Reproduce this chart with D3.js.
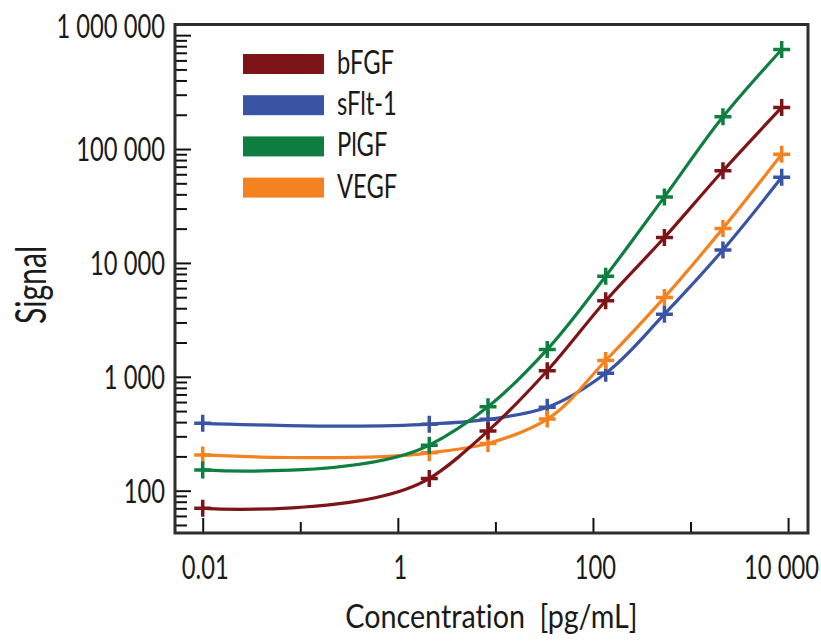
<!DOCTYPE html>
<html>
<head>
<meta charset="utf-8">
<script src="https://cdn.jsdelivr.net/npm/d3@7"></script>
<style>
  body { margin: 0; background: #fff; }
  text { font-family: Lato, "Open Sans", sans-serif; fill: #1a1a1a; font-variant-ligatures: none; }
</style>
</head>
<body>
<script>
// data (concentration in pg/mL)
var concentrations = [0.01, 2.1, 8.4, 34, 135, 540, 2150, 8600];
var bFGF  = [70, 128, 334, 1130, 4650, 16700, 64400, 232000];
var sFlt1 = [390, 384, 423, 540, 1075, 3550, 13000, 56400];
var PlGF  = [152, 251, 546, 1740, 7650, 38000, 192000, 748000];
var VEGF  = [206, 215, 260, 425, 1390, 4980, 20100, 89800];

var seriesNames  = ["bFGF", "sFlt-1", "PlGF", "VEGF"];
var seriesValues = [bFGF, sFlt1, PlGF, VEGF];
var seriesColors = ["#7d1518", "#3a54a4", "#0e7f41", "#f58220"];

var yTickValues = [100, 1000, 10000, 100000, 1000000];
var yTickLabels = ["100", "1 000", "10 000", "100 000", "1 000 000"];
var xTickValues = [0.01, 1, 100, 10000];
var xTickLabels = ["0.01", "1", "100", "10 000"];
var xMinorValues = [0.1, 10, 1000];

// set the dimensions and margins of the graph
var margin = {top: 24.5, right: 13, bottom: 111, left: 175},
    width = 821 - margin.left - margin.right,
    height = 644 - margin.top - margin.bottom;

var narrowTick = 0.72, narrowTitle = 0.87;

var x = d3.scaleLog().domain([0.0052, 16000]).range([0, width]);
var y = d3.scaleLog().domain([42.5, 1240000]).range([height, 0]);

var svg = d3.select("body").append("svg")
    .attr("width", 821)
    .attr("height", 644)
  .append("g")
    .attr("transform", "translate(" + margin.left + "," + margin.top + ")");

// squeeze text horizontally around its own anchor point
function narrow(sel, sx) {
  sel.attr("transform", function() {
    var tx = +this.getAttribute("x") || 0, ty = +this.getAttribute("y") || 0;
    return "translate(" + tx + "," + ty + ") scale(" + sx + ",1) translate(" + (-tx) + "," + (-ty) + ")";
  });
}

// minor y ticks (2..9 in each decade)
var yMinor = y.ticks().filter(function(v) { return yTickValues.indexOf(v) < 0; });
svg.append("g")
    .call(d3.axisLeft(y).tickValues(yMinor).tickSize(-12).tickFormat(""))
    .call(function(g) { g.select(".domain").remove(); });

// major y ticks + labels
var gy = svg.append("g")
    .call(d3.axisLeft(y).tickValues(yTickValues).tickSize(-16).tickPadding(10)
      .tickFormat(function(d, i) { return yTickLabels[i]; }));
gy.select(".domain").remove();
gy.selectAll("text")
    .attr("font-size", 33)
    .attr("dy", function(d) { return d === 1000000 ? "0.08em" : "0.36em"; })
    .call(narrow, narrowTick);

// x ticks
svg.append("g")
    .attr("transform", "translate(0," + height + ")")
    .call(d3.axisBottom(x).tickValues(xMinorValues).tickSize(-11).tickFormat(""))
    .call(function(g) { g.select(".domain").remove(); });

var gx = svg.append("g")
    .attr("transform", "translate(0," + height + ")")
    .call(d3.axisBottom(x).tickValues(xTickValues).tickSize(-15).tickPadding(23)
      .tickFormat(function(d, i) { return xTickLabels[i]; }));
gx.select(".domain").remove();
gx.selectAll("text")
    .attr("font-size", 33)
    .attr("x", function(d) { return d === 10000 ? -7 : 2; })
    .call(narrow, narrowTick);

svg.selectAll(".tick line").attr("stroke", "#111").attr("stroke-width", 2);

// frame
svg.append("rect")
    .attr("width", width)
    .attr("height", height)
    .attr("fill", "none")
    .attr("stroke", "#2d2d2d")
    .attr("stroke-width", 3);

// curves
var valueline = d3.line()
    .x(function(d) { return x(d[0]); })
    .y(function(d) { return y(d[1]); })
    .curve(d3.curveCatmullRom.alpha(1));

var drawOrder = [1, 3, 2, 0];
drawOrder.forEach(function(s) {
  var pts = concentrations.map(function(c, i) { return [c, seriesValues[s][i]]; });
  svg.append("path")
      .datum(pts)
      .attr("fill", "none")
      .attr("stroke", seriesColors[s])
      .attr("stroke-width", 3.2)
      .attr("d", valueline);
  svg.selectAll(null)
      .data(pts)
    .enter().append("path")
      .attr("transform", function(d) { return "translate(" + x(d[0]) + "," + y(d[1]) + ")"; })
      .attr("d", "M-8.5,0H8.5M0,-8.5V8.5")
      .attr("stroke", seriesColors[s])
      .attr("stroke-width", 3.5);
});

// legend
var legend = svg.append("g").attr("transform", "translate(68,29.5)");
seriesNames.forEach(function(name, i) {
  legend.append("rect")
      .attr("x", 0).attr("y", i * 41.2)
      .attr("width", 81).attr("height", 20)
      .attr("fill", seriesColors[i]);
  legend.append("text")
      .attr("x", 94).attr("y", i * 41.2 + 20)
      .attr("font-size", 33)
      .text(name)
      .call(narrow, narrowTick);
});

// axis titles
svg.append("text")
    .attr("x", width / 2)
    .attr("y", 628 - margin.top)
    .attr("text-anchor", "middle")
    .attr("font-size", 33)
    .text("Concentration\u00a0\u00a0[pg/mL]")
    .call(narrow, narrowTitle);

svg.append("text")
    .attr("text-anchor", "middle")
    .attr("font-size", 42)
    .attr("transform", "translate(" + (46 - margin.left) + "," + (285 - margin.top) + ") rotate(-90) scale(0.72,1)")
    .text("Signal");
</script>
</body>
</html>
